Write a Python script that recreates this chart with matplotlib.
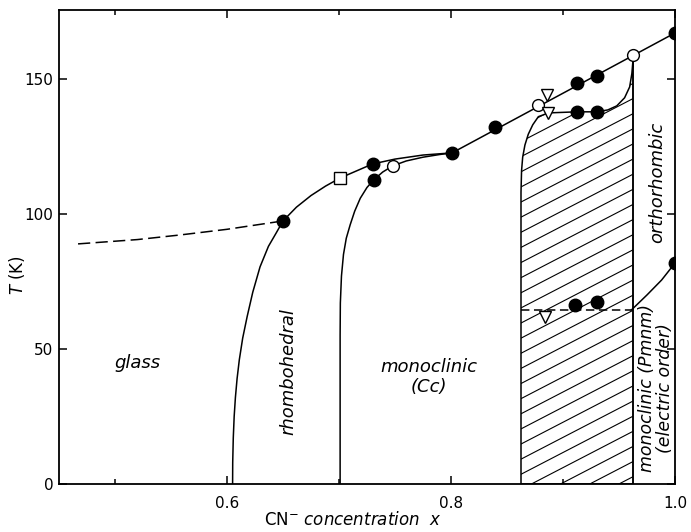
import numpy as np
import matplotlib
matplotlib.use("Agg")
from matplotlib import pyplot as plt
from matplotlib.patches import Polygon

# ---- data ----
# filled circles (measured transitions)
filled_x = [0.65, 0.730, 0.731, 0.801, 0.839, 0.9125, 0.930, 0.9125, 0.930, 0.911, 0.930, 1.0, 1.0]
filled_y = [97.4, 118.5, 112.6, 122.6, 132.0, 148.5, 150.9, 137.8, 137.8, 66.3, 67.4, 167.0, 81.8]
# open circles
open_x = [0.748, 0.878, 0.9625]
open_y = [117.8, 140.2, 159.0]
# open square
square_x = [0.701]
square_y = [113.3]
# open triangles (pointing down)
tri_x = [0.886, 0.887, 0.884]
tri_y = [144.0, 137.4, 62.0]

# phase boundaries
glass_x = [0.467, 0.52, 0.558, 0.60, 0.65]
glass_y = [88.9, 90.5, 92.2, 94.3, 97.4]

rhombo_x = [0.605, 0.6051, 0.6056, 0.6064, 0.6075, 0.609, 0.611, 0.614, 0.618, 0.623, 0.6295,
            0.637, 0.644, 0.65, 0.662, 0.675, 0.688, 0.701]
rhombo_y = [0, 8, 17, 25, 32, 39, 46, 54, 62, 71, 80.4,
            88, 93, 97.4, 102.5, 106.8, 110.3, 113.3]

mono_x = [0.701, 0.701, 0.7012, 0.7022, 0.704, 0.7065, 0.710, 0.714, 0.719, 0.725, 0.731]
mono_y = [0, 55, 67, 77, 85, 91, 96, 101, 105.8, 109.8, 112.6]

lower_x = [0.731, 0.739, 0.748, 0.76, 0.775, 0.79, 0.801]
lower_y = [112.6, 115.5, 117.8, 119.6, 121.0, 122.0, 122.6]

upper_x = [0.701, 0.730, 0.75, 0.775, 0.801, 1.0]
upper_y = [113.3, 118.5, 120.3, 121.8, 122.6, 167.0]

# boundary of the hatched (two phase) region
hatch_x = [0.8625, 0.8625, 0.863, 0.864, 0.866, 0.869, 0.873, 0.878, 0.887, 0.9125, 0.930,
           0.940, 0.948, 0.955, 0.9595, 0.9615, 0.9625, 0.9625]
hatch_y = [0, 108, 116, 121, 125.5, 129.5, 133, 136, 137.4, 137.8, 137.8,
           138.5, 140, 143, 147, 152, 157, 0]

ortho_x = [0.9625, 0.9625]
ortho_y = [0, 159.0]

elec_x = [0.8625, 0.961]
elec_y = [64.4, 64.4]
elec2_x = [0.961, 0.975, 0.988, 1.0]
elec2_y = [64.4, 70.0, 75.5, 81.8]

# ---- figure ----
fig = plt.figure(figsize=(6.91, 5.32), dpi=100)
ax = fig.add_axes([59 / 691, 48 / 532, 616 / 691, 474 / 532])
ax.set_xlim(0.45, 1.0)
ax.set_ylim(0, 175.5)

lw = 1.1
ax.plot(glass_x, glass_y, color="k", lw=lw, dashes=(8, 3.5))
ax.plot(rhombo_x, rhombo_y, color="k", lw=lw)
ax.plot(mono_x, mono_y, color="k", lw=lw)
ax.plot(lower_x, lower_y, color="k", lw=lw)
ax.plot(upper_x, upper_y, color="k", lw=lw)
ax.plot(ortho_x, ortho_y, color="k", lw=lw)
ax.plot(elec_x, elec_y, color="k", lw=lw, dashes=(5.5, 3))
ax.plot(elec2_x, elec2_y, color="k", lw=lw)

poly = Polygon(np.column_stack([hatch_x, hatch_y]), closed=True, fill=False,
               edgecolor="k", lw=lw)
ax.add_patch(poly)
# hatch lines clipped to the region
slope = 215.0
xs = np.array([0.85, 0.975])
for t0 in np.arange(-30, 165, 5.6):
    ln, = ax.plot(xs, t0 + slope * (xs - 0.8625), color="k", lw=0.8)
    ln.set_clip_path(poly)

ms = 9
ax.plot(filled_x, filled_y, "o", color="k", ms=ms, zorder=5)
ax.plot(open_x, open_y, "o", mfc="white", mec="k", mew=1.0, ms=ms - 0.5, zorder=5)
ax.plot(square_x, square_y, "s", mfc="white", mec="k", mew=1.0, ms=8, zorder=5)
ax.plot(tri_x, tri_y, "v", mfc="white", mec="k", mew=1.0, ms=8.5, zorder=5)

fs = 13
ax.text(0.5205, 44.8, "glass", style="italic", fontsize=fs, ha="center", va="center")
ax.text(0.6545, 41.5, "rhombohedral", style="italic", fontsize=fs, rotation=90,
        ha="center", va="center")
ax.text(0.78, 39.6, "monoclinic\n(Cc)", style="italic", fontsize=fs, ha="center",
        va="center", linespacing=1.1)
ax.text(0.984, 111.5, "orthorhombic", style="italic", fontsize=fs, rotation=90,
        ha="center", va="center")
ax.text(0.983, 35.5, "monoclinic (Pmnm)\n(electric order)", style="italic", fontsize=fs - 0.5,
        rotation=90, ha="center", va="center", linespacing=1.0)

ax.set_xticks([0.6, 0.8, 1.0])
ax.set_xticklabels(["0.6", "0.8", "1.0"])
ax.set_xticks([0.5, 0.7, 0.9], minor=True)
ax.set_yticks([0, 50, 100, 150])
ax.tick_params(which="both", direction="in", top=True, right=True, labelsize=11, width=1.1)
ax.tick_params(which="major", length=6)
ax.tick_params(which="minor", length=3.5)
ax.tick_params(axis="x", pad=9)
ax.tick_params(axis="y", pad=4)
for s in ax.spines.values():
    s.set_linewidth(1.3)

ax.set_xlabel(r"CN$^{-}$ $\it{concentration}$  $\it{x}$", fontsize=12)
ax.xaxis.set_label_coords(0.477, -0.058)
ax.set_ylabel(r"$\it{T}$ (K)", fontsize=12)
ax.yaxis.set_label_coords(-0.052, 0.44)

fig.savefig("out.png", dpi=100)
